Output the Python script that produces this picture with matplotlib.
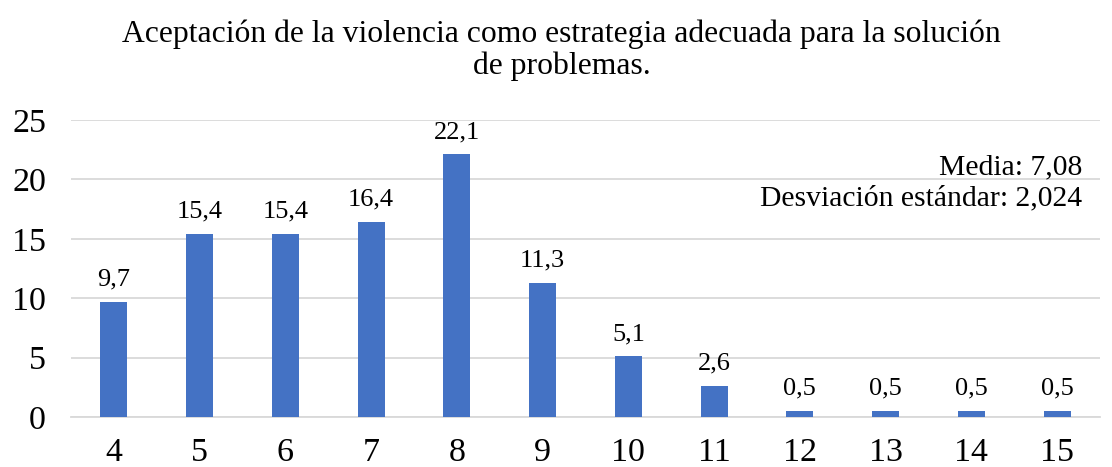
import matplotlib
matplotlib.use('Agg')
import matplotlib.pyplot as plt

# Data
puntajes = ['4', '5', '6', '7', '8', '9', '10', '11', '12', '13', '14', '15']
porcentajes = [9.7, 15.4, 15.4, 16.4, 22.1, 11.3, 5.1, 2.6, 0.5, 0.5, 0.5, 0.5]
titulo = 'Aceptación de la violencia como estrategia adecuada para la solución\nde problemas.'
estadisticos = 'Media: 7,08\nDesviación estándar: 2,024'

plt.rcParams['font.family'] = ['Liberation Serif', 'DejaVu Serif']

fig = plt.figure(figsize=(11.12, 4.67), dpi=100)
ax = fig.add_axes([71 / 1112, 50 / 467, 1029 / 1112, 297 / 467])

x = range(len(puntajes))
bars = ax.bar(x, porcentajes, width=0.315, color='#4472C4', zorder=3)

for xi, v in zip(x, porcentajes):
    ax.text(xi, v + 0.95, f'{v:.1f}'.replace('.', ','), ha='center', va='bottom',
            fontsize=19, color='#000000')

ax.set_xlim(-0.5, len(puntajes) - 0.5)
ax.set_ylim(0, 25)
ax.set_yticks([0, 5, 10, 15, 20, 25])
ax.set_xticks(list(x))
ax.set_xticklabels(puntajes)
ax.tick_params(axis='both', length=0, labelsize=24.5, colors='#000000')
ax.tick_params(axis='x', pad=15)
ax.tick_params(axis='y', pad=18)
ax.grid(axis='y', color='#D9D9D9', linewidth=1.3, zorder=0)
for side in ['top', 'right', 'left']:
    ax.spines[side].set_visible(False)
ax.spines['bottom'].set_color('#D9D9D9')
ax.spines['bottom'].set_linewidth(1.3)

ax.text(1082 / 1112, 1 - 183 / 467, estadisticos, transform=fig.transFigure,
        ha='right', va='center', fontsize=21.3, linespacing=1.25)

fig.text(0.505, 1 - 50 / 467, titulo, ha='center', va='center', fontsize=22.8,
         linespacing=1.13)

fig.savefig('out.png', dpi=100)
